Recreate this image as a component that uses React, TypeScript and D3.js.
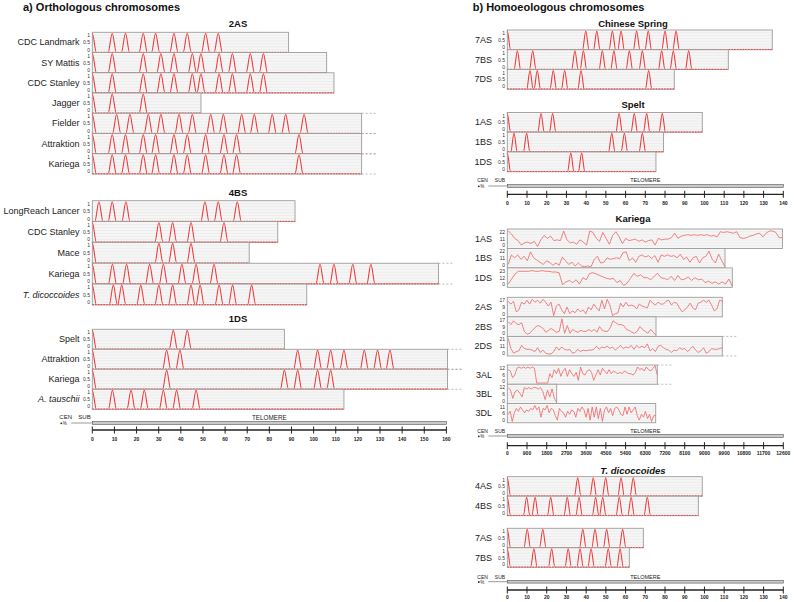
import React from "react";
import * as d3 from "d3";

/* ---------- DATA ---------- */

// a) orthologous chromosomes, peak positions (Mb)
const rows2AS = ["CDC Landmark", "SY Mattis", "CDC Stanley", "Jagger", "Fielder", "Attraktion", "Kariega"];
const len2AS = [88.7, 105.9, 109.2, 49.1, 121.7, 121.7, 121.7];
const open2AS = [false, false, false, false, true, true, true];
const cdcLandmark2AS = [0, 9, 15, 23, 28.6, 36.9, 42.9, 51.2, 56.9];
const syMattis2AS = [0, 9, 23, 31, 36.9, 45.2, 49.1, 57.3, 63.3, 71.4, 77.3];
const cdcStanley2AS = [0, 9, 23, 31, 36.9, 45.2, 49.1, 57.3, 63.3, 71.4, 77.3];
const jagger2AS = [0, 9, 23];
const fielder2AS = [0, 11, 17, 25.3, 31, 39.2, 45.2, 53.5, 59.2, 67.5, 73.2, 81.3, 87.4, 95.7];
const attraktion2AS = [0, 9, 15, 23, 28.6, 36.9, 42.9, 51.2, 59.5, 65.2, 93.4];
const kariega2AS = [0, 9, 15, 23, 28.6, 36.9, 42.9, 51.2, 59.5, 65.2, 93.4];

const rows4BS = ["LongReach Lancer", "CDC Stanley", "Mace", "Kariega", "T. dicoccoides"];
const len4BS = [91.6, 83.8, 70.9, 156.4, 96.9];
const open4BS = [false, false, false, true, false];
const longReach4BS = [3, 9, 15.2, 50.9, 56.9, 65.5];
const cdcStanley4BS = [0, 30.1, 36.3, 44.6, 59.5];
const mace4BS = [0, 30.1, 36.3, 44.6];
const kariega4BS = [0, 9.1, 15.5, 25.9, 32.1, 40.5, 46.9, 55, 102.9, 109.2, 117.7, 125.9];
const tdic4BS = [0, 9.5, 13.3, 21.9, 30.1, 36.3, 44.6, 48.7, 57.3, 63.4, 72];

const rows1DS = ["Spelt", "Attraktion", "Kariega", "A. tauschii"];
const len1DS = [86.8, 160.5, 160.5, 113.7];
const open1DS = [false, true, true, false];
const spelt1DS = [0, 36.6, 42.9];
const attraktion1DS = [0, 33.6, 39.6, 92.8, 101.8, 107.7, 113.7, 122.9, 128.9, 134.5];
const kariega1DS = [0, 33.6, 86.8, 92.8, 101.8, 107.7];
const tauschii1DS = [0, 9.1, 17.5, 23.5, 32.1, 38.1, 46.9];

// b) homoeologous chromosomes
const rowsCS = ["7AS", "7BS", "7DS"];
const lenCS = [134.4, 112.1, 84.7];
const cs7AS = [0, 39.8, 45.4, 53.3, 57.7, 65.6, 71.5, 80, 85.6];
const cs7BS = [5.1, 12.9, 34.3, 38.6, 48.2, 54.1, 61.9, 68.5, 78.3, 84.2, 92];
const cs7DS = [11.5, 15.2, 23.3, 29.1, 37.4, 71.7];

const rowsSpelt = ["1AS", "1BS", "1DS"];
const lenSpelt = [98.9, 79.2, 75.4];
const sp1AS = [0, 17.1, 23, 56.7, 64.4, 70.7, 78.6];
const sp1BS = [3.4, 9.8, 53, 59.4, 68.5];
const sp1DS = [0, 32.2, 37.7];

const rowsTd4 = ["4AS", "4BS"];
const lenTd4 = [98.9, 96.9];
const td4AS = [0, 35.7, 43.6, 49.9, 57.7, 63.9];
const td4BS = [0, 9.8, 14.1, 22, 30.4, 36.4, 44.8, 48.4, 56.8, 62.8, 71];
const rowsTd7 = ["7AS", "7BS"];
const lenTd7 = [69.0, 61.9];
const td7AS = [0, 10.1, 18, 38.3, 44.5, 50.4, 58.5];
const td7BS = [0, 13.5, 22.5, 30.9, 36.9, 42.5, 51.2, 57.2];

// Kariega counts along the chromosome (kb)
const karNames = ["1AS", "1BS", "1DS", "2AS", "2BS", "2DS", "3AL", "3BL", "3DL"];
const karLen = [12560, 9938, 10272, 9815, 6789, 9815, 6848, 2255, 6775];
const karMax = [22, 22, 23, 17, 17, 21, 12, 12, 11];
const karMid = [11, 11, 12, 9, 9, 11, 6, 6, 6];
const karOpen = [false, false, false, false, false, true, true, false, false];
const kar1AS = [22, 18, 12, 9, 3, 6, 7, 5, 8, 1, 10, 16, 12, 15, 9, 10, 9, 22, 10, 6, 7, 4, 10, 7, 3, 22, 20, 12, 8, 20, 12, 4, 16, 21, 14, 5, 12, 9, 10, 11, 8, 10, 7, 9, 10, 3, 12, 10, 11, 11, 13, 19, 12, 15, 16, 17, 16, 17, 16, 17, 16, 17, 15, 16, 14, 21, 20, 21, 20, 19, 21, 13, 12, 13, 15, 16, 18, 19, 14, 19, 22, 22, 20, 13, 13];
const kar1BS = [3, 16, 12, 16, 10, 14, 8, 20, 12, 9, 6, 3, 8, 6, 2, 5, 2, 13, 8, 3, 6, 1, 5, 1, 0, 1, 0, 10, 14, 5, 6, 12, 10, 11, 12, 11, 19, 20, 8, 12, 6, 14, 16, 13, 15, 11, 15, 6, 16, 14, 16, 14, 15, 12, 17, 10, 13, 6, 12, 14, 5, 12, 14, 21, 10, 5, 17, 8, 0];
const kar1DS = [3, 10, 17, 21, 21, 21, 21, 22, 21, 21, 22, 21, 21, 20, 20, 19, 2, 6, 8, 5, 9, 3, 12, 9, 18, 19, 17, 15, 13, 11, 10, 11, 5, 8, 1, 4, 11, 18, 14, 16, 12, 12, 9, 14, 18, 12, 11, 9, 14, 8, 15, 9, 10, 13, 8, 12, 9, 10, 5, 7, 4, 6, 3, 6, 3, 10, 0];
const kar2AS = [15, 12, 15, 4, 6, 14, 12, 16, 12, 17, 14, 16, 13, 17, 14, 10, 14, 0, 10, 12, 6, 2, 9, 2, 5, 3, 7, 4, 6, 2, 9, 6, 12, 8, 5, 16, 7, 17, 11, 0, 2, 3, 13, 9, 14, 10, 11, 10, 7, 12, 10, 9, 8, 16, 13, 11, 14, 12, 12, 15, 16, 11, 14, 13, 8, 4, 6, 9, 13, 8, 6, 13, 14, 16, 14, 16, 11, 5, 7, 16, 15];
const kar2BS = [14, 11, 15, 12, 11, 13, 4, 1, 2, 5, 8, 10, 9, 7, 3, 5, 7, 5, 3, 4, 17, 2, 10, 2, 6, 4, 3, 5, 4, 4, 6, 4, 6, 3, 9, 5, 4, 4, 8, 15, 13, 11, 11, 10, 6, 5, 3, 2, 4, 9, 6, 4, 2, 6, 3, 0];
const kar2DS = [21, 8, 2, 4, 5, 12, 8, 7, 7, 6, 4, 9, 3, 6, 2, 1, 1, 4, 10, 6, 10, 7, 6, 7, 2, 3, 7, 4, 6, 5, 6, 6, 7, 11, 7, 10, 9, 11, 8, 10, 6, 9, 12, 8, 10, 9, 12, 7, 12, 9, 11, 9, 14, 5, 8, 4, 11, 12, 9, 7, 6, 3, 6, 5, 9, 7, 8, 4, 7, 11, 6, 3, 5, 9, 2, 4, 8, 7, 7, 8, 9];
const kar3AL = [10, 9, 4, 6, 11, 12, 11, 12, 11, 12, 11, 12, 11, 0, 0, 0, 0, 0, 0, 7, 4, 10, 7, 11, 5, 9, 11, 5, 10, 7, 5, 8, 2, 12, 7, 6, 9, 10, 8, 2, 6, 10, 6, 11, 9, 7, 10, 7, 9, 8, 7, 8, 7, 9, 8, 7, 7, 6, 8, 12, 10, 11, 9, 12, 10, 9, 11, 13, 6];
const kar3BL = [11, 9, 3, 8, 9, 7, 4, 11, 10, 11, 10, 11, 11, 10, 11, 8, 2, 9, 4, 10, 3, 0];
const kar3DL = [5, 7, 0, 6, 9, 7, 10, 8, 6, 8, 7, 9, 8, 11, 8, 10, 3, 9, 8, 11, 6, 9, 8, 4, 1, 9, 7, 6, 3, 7, 5, 8, 7, 3, 9, 7, 10, 8, 3, 9, 1, 10, 3, 10, 2, 9, 0, 8, 10, 6, 9, 4, 9, 10, 8, 5, 4, 10, 5, 10, 6, 8, 10, 4, 1, 5, 3, 7, 2, 5, 0, 4, 4];

const mbTicks = d3.range(0, 170, 10);
const mbTicksR = d3.range(0, 150, 10);
const kbTicks = d3.range(0, 12601, 900);

/* ---------- STYLE ---------- */
const FONT = "Arial, 'Liberation Sans', sans-serif";
const RED = "#f03c3c";
const BOX = "#9c9c9c";

const xL = d3.scaleLinear().domain([0, 160]).range([92.3, 446.4]);
const xR = d3.scaleLinear().domain([0, 140]).range([507.3, 783.3]);
const xK = d3.scaleLinear().domain([0, 12600]).range([507.3, 783.3]);

// box, grid, labels shared by every row
const RowFrame = ({ x0, x1, top, h, open, label, italic, labelRight, tickRight, ticks }: any) => (
  <g>
    <rect x={x0} y={top} width={x1 - x0} height={h} fill="#f6f6f6" />
    {d3.range(1, 7).map((k) => (
      <line key={k} x1={x0} x2={x1} y1={top + (h * k) / 7} y2={top + (h * k) / 7} stroke="#e2e2e2" strokeWidth={0.5} />
    ))}
    <rect x={x0} y={top} width={x1 - x0} height={h} fill="none" stroke={BOX} strokeWidth={0.9} />
    {open && (
      <g stroke="#aaa" strokeWidth={0.8} strokeDasharray="2 2">
        <line x1={x1} x2={x1 + 15} y1={top} y2={top} />
        <line x1={x1} x2={x1 + 15} y1={top + h} y2={top + h} />
      </g>
    )}
    <text x={labelRight} y={top + h / 2} fontSize={9} textAnchor="end" dominantBaseline="central"
      fontStyle={italic ? "italic" : "normal"} fill="#222">{label}</text>
    {ticks.map((t: string, i: number) => (
      <text key={i} x={tickRight} y={top + 3 + i * (h - 6) / 2} fontSize={5} textAnchor="end"
        dominantBaseline="central" fill="#333">{t}</text>
    ))}
  </g>
);

let clipId = 0;

// every peak is a bell from p-hw to p+hw, flat baseline in between
const PeakRow = ({ x, hw, top, h, len, peaks, label, italic, open, labelRight, tickRight }: any) => {
  const id = `clip${clipId++}`;
  const y = d3.scaleLinear().domain([0, 1]).range([top + h, top + 1]);
  const pts: [number, number][] = [[-hw * 2, 0], [len + hw, 0]];
  peaks.forEach((p: number) => pts.push([p - hw, 0], [p, 1], [p + hw, 0]));
  pts.sort((a, b) => a[0] - b[0]);
  const uniq = pts.filter((d, i) => i === 0 || d[0] > pts[i - 1][0] + 1e-6);
  const line = d3.line<[number, number]>().x((d) => x(d[0])).y((d) => y(d[1])).curve(d3.curveMonotoneX);
  const x0 = x(0), x1 = x(len);
  return (
    <g>
      <RowFrame x0={x0} x1={x1} top={top} h={h} open={open} label={label} italic={italic}
        labelRight={labelRight} tickRight={tickRight} ticks={["1", "0.5", "0"]} />
      <clipPath id={id}><rect x={x0} y={top} width={x1 - x0} height={h - 0.7} /></clipPath>
      <path d={line(uniq) || ""} fill="none" stroke={RED} strokeWidth={1.1} clipPath={`url(#${id})`} />
      <line x1={x0} x2={x1} y1={top + h - 0.3} y2={top + h - 0.3} stroke={RED} strokeWidth={1} strokeDasharray="1.6 1.2" />
    </g>
  );
};

const CountRow = ({ top, h, len, values, max, mid, label, open }: any) => {
  const y = d3.scaleLinear().domain([0, max]).range([top + h - 1.2, top + 2]);
  const pos = d3.scaleLinear().domain([0, values.length - 1]).range([40, len]);
  const line = d3.line<number>().x((d, i) => xK(pos(i))).y((d) => y(d));
  const x0 = xK(0), x1 = xK(len);
  return (
    <g>
      <RowFrame x0={x0} x1={x1} top={top} h={h} open={open} label={label}
        labelRight={492} tickRight={505} ticks={[String(max), String(mid), "0"]} />
      <path d={line(values) || ""} fill="none" stroke="#f06464" strokeWidth={0.8} />
    </g>
  );
};

const Legend = ({ x, ticks, yText, yBar, yAxis, yLab, big }: any) => {
  const x0 = x.range()[0], x1 = x.range()[1];
  const fs = big ? 6 : 5;
  return (
    <g fontFamily={FONT}>
      <text x={x0 - (big ? 33 : 30)} y={yText} fontSize={fs} dominantBaseline="central" fill="#222">CEN</text>
      <text x={x0 - (big ? 14 : 12.5)} y={yText} fontSize={fs} dominantBaseline="central" fill="#222">SUB</text>
      <text x={(x0 + x1) / 2} y={yText} fontSize={big ? 6.3 : 5.5} textAnchor="middle" dominantBaseline="central" fill="#222">TELOMERE</text>
      <circle cx={x0 - (big ? 31 : 28.5)} cy={yBar + 0.3} r={0.9} fill="#222" />
      <text x={x0 - (big ? 29.5 : 27)} y={yBar + 0.5} fontSize={4.5} dominantBaseline="central" fill="#222">%</text>
      <line x1={x0 - (big ? 21 : 19)} x2={x0} y1={yBar} y2={yBar} stroke="#555" strokeWidth={0.6} />
      <rect x={x0} y={yBar - 1.4} width={x1 - x0} height={2.8} fill="#c9c9c9" stroke="#555" strokeWidth={0.6} />
      <line x1={x0} x2={x1} y1={yAxis} y2={yAxis} stroke="#222" strokeWidth={1.3} />
      {ticks.map((t: number) => (
        <g key={t}>
          <line x1={x(t)} x2={x(t)} y1={yAxis - 3.5} y2={yAxis + 3.5} stroke="#222" strokeWidth={1} />
          <text x={x(t)} y={yLab} fontSize={5} fontWeight="bold" textAnchor="middle" dominantBaseline="central" fill="#222">{t}</text>
        </g>
      ))}
    </g>
  );
};

const Heading = ({ x, y, text, italic }: any) => (
  <text x={x} y={y} fontSize={9.5} fontWeight="bold" textAnchor="middle" dominantBaseline="central"
    fontStyle={italic ? "italic" : "normal"} fill="#111">{text}</text>
);

const App = () => {
  const left = (names: string[], lens: number[], opens: boolean[], peaks: number[][], top0: number, h: number) =>
    names.map((n, i) => (
      <PeakRow key={n + i} x={xL} hw={1.85} top={top0 + i * h} h={h} len={lens[i]} peaks={peaks[i]} label={n}
        italic={n.includes(". ")} open={opens[i]} labelRight={79.5} tickRight={90} />
    ));
  const right = (names: string[], lens: number[], peaks: number[][], top0: number, h: number) =>
    names.map((n, i) => (
      <PeakRow key={n + i} x={xR} hw={1.65} top={top0 + i * h} h={h} len={lens[i]} peaks={peaks[i]} label={n}
        open={false} labelRight={492} tickRight={505} />
    ));
  const karVals = [kar1AS, kar1BS, kar1DS, kar2AS, kar2BS, kar2DS, kar3AL, kar3BL, kar3DL];
  const karTops = [229, 297.3, 365];
  const karH = [19.45, 19.55, 19.25];

  return (
    <svg width={794} height={602} style={{ position: "absolute", left: 0, top: 0, background: "#fff" }} fontFamily={FONT}>
      <text x={23} y={6.5} fontSize={11} fontWeight="bold" dominantBaseline="central" fill="#111">a) Orthologous chromosomes</text>
      <text x={472.7} y={6.5} fontSize={11} fontWeight="bold" dominantBaseline="central" fill="#111">b) Homoeologous chromosomes</text>

      <Heading x={238} y={23} text="2AS" />
      {left(rows2AS, len2AS, open2AS, [cdcLandmark2AS, syMattis2AS, cdcStanley2AS, jagger2AS, fielder2AS, attraktion2AS, kariega2AS], 32.3, 20.25)}
      <Heading x={238} y={192} text="4BS" />
      {left(rows4BS, len4BS, open4BS, [longReach4BS, cdcStanley4BS, mace4BS, kariega4BS, tdic4BS], 200.7, 20.85)}
      <Heading x={238} y={318.5} text="1DS" />
      {left(rows1DS, len1DS, open1DS, [spelt1DS, attraktion1DS, kariega1DS, tauschii1DS], 329.3, 20)}
      <Legend x={xL} ticks={mbTicks} yText={417} yBar={423} yAxis={430} yLab={439} big />

      <Heading x={633} y={23} text="Chinese Spring" />
      {right(rowsCS, lenCS, [cs7AS, cs7BS, cs7DS], 30, 19.75)}
      <Heading x={633} y={104} text="Spelt" />
      {right(rowsSpelt, lenSpelt, [sp1AS, sp1BS, sp1DS], 112.5, 19.75)}
      <Legend x={xR} ticks={mbTicksR} yText={180} yBar={186} yAxis={194.3} yLab={202.7} />

      <Heading x={633} y={218.3} text="Kariega" />
      {karNames.map((n, i) => {
        const g = Math.floor(i / 3);
        return (
          <CountRow key={n} top={karTops[g] + (i % 3) * karH[g]} h={karH[g]} len={karLen[i]} values={karVals[i]}
            max={karMax[i]} mid={karMid[i]} label={n} open={karOpen[i]} />
        );
      })}
      <Legend x={xK} ticks={kbTicks} yText={430.7} yBar={436} yAxis={445.7} yLab={452.7} />

      <Heading x={633} y={470} text="T. dicoccoides" italic />
      {right(rowsTd4, lenTd4, [td4AS, td4BS], 476.7, 19.5)}
      {right(rowsTd7, lenTd7, [td7AS, td7BS], 528.3, 19.5)}
      <Legend x={xR} ticks={mbTicksR} yText={576.7} yBar={581.7} yAxis={590} yLab={596.7} />
    </svg>
  );
};

export default App;
